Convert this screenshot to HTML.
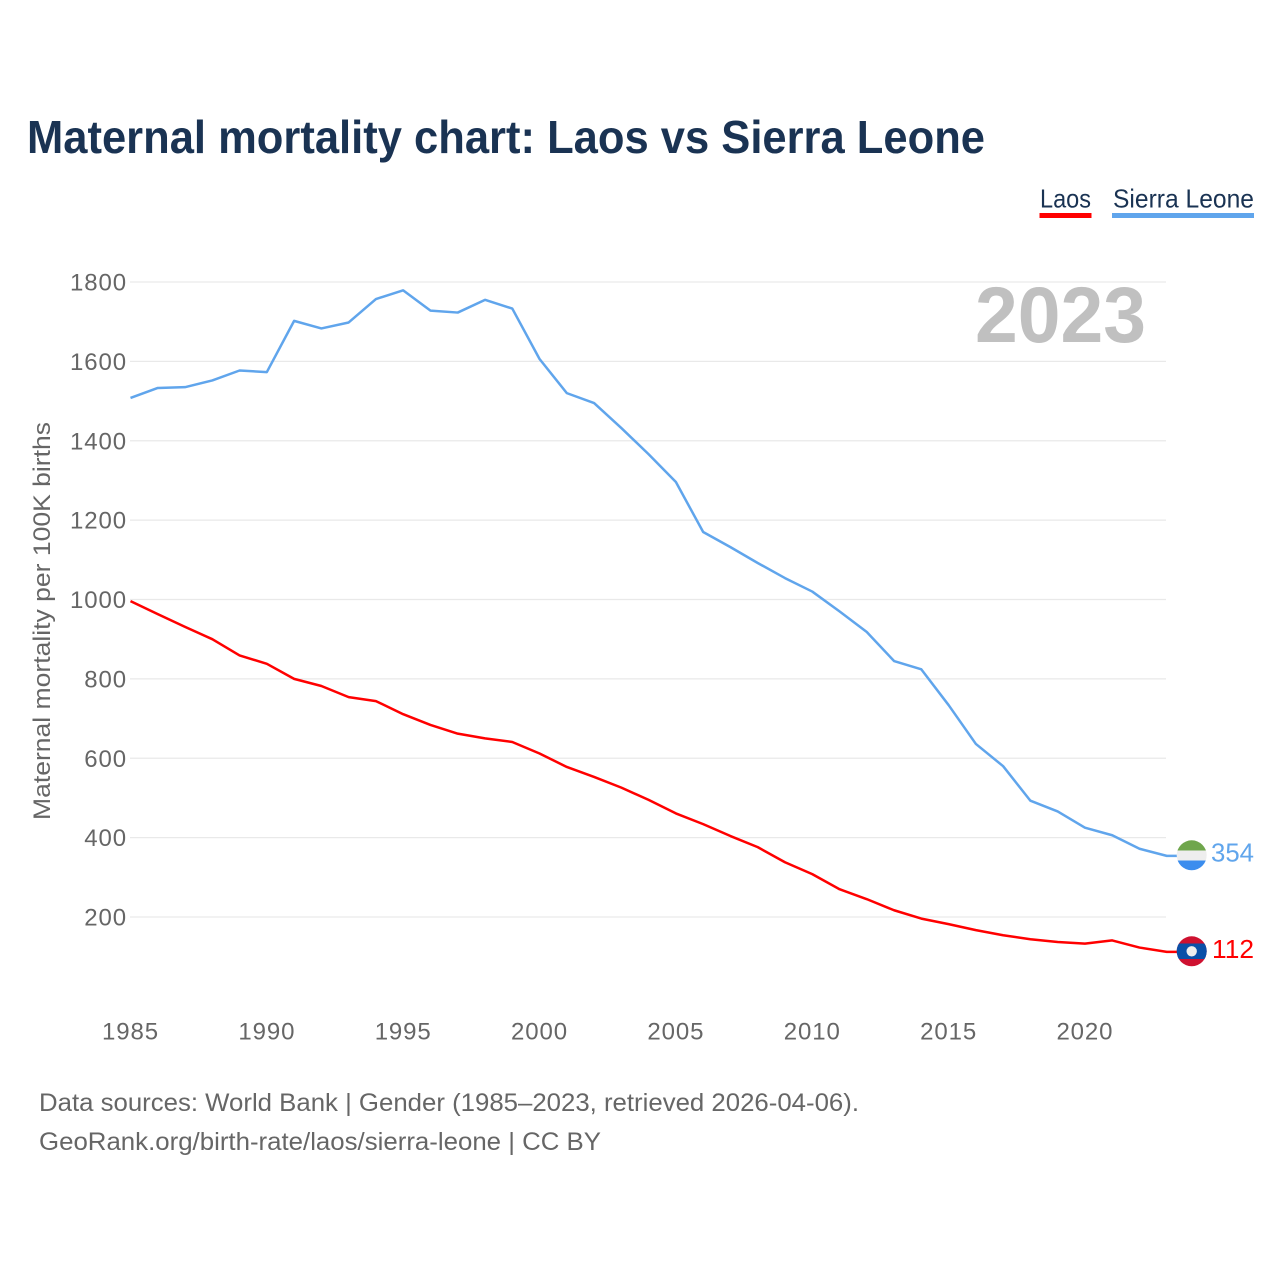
<!DOCTYPE html>
<html lang="en">
<head>
<meta charset="utf-8">
<title>Maternal mortality chart: Laos vs Sierra Leone</title>
<style>
html,body{margin:0;padding:0;background:#fff;}
svg{display:block;font-family:"Liberation Sans",sans-serif;}
.tick{font-size:24px;fill:#666;letter-spacing:.9px;}
.foot{font-size:25px;fill:#666;}
.leg{font-size:26px;fill:#1a3353;}
</style>
</head>
<body>
<svg id="chart" width="1280" height="1280" viewBox="0 0 1280 1280">
  <defs>
    <clipPath id="flag-clip-sl"><circle cx="1191.7" cy="855.3" r="15"/></clipPath>
    <clipPath id="flag-clip-la"><circle cx="1191.7" cy="951.3" r="15"/></clipPath>
  </defs>
  <rect x="0" y="0" width="1280" height="1280" fill="#fff"/>
  <text x="27" y="153" font-size="46" font-weight="700" fill="#1a3353" textLength="958" lengthAdjust="spacingAndGlyphs">Maternal mortality chart: Laos vs Sierra Leone</text>

  <g>
    <g>
      <text class="leg" x="1040" y="207.5" textLength="51" lengthAdjust="spacingAndGlyphs">Laos</text>
      <rect x="1039.5" y="213" width="52" height="5" fill="#ff0000"/>
    </g>
    <g>
      <text class="leg" x="1113" y="207.5" textLength="141" lengthAdjust="spacingAndGlyphs">Sierra Leone</text>
      <rect x="1112" y="213" width="142" height="5" fill="#60a5ec"/>
    </g>
  </g>

  <g id="grid"></g>
  <g id="yticks"></g>
  <g id="xticks"></g>

  <text transform="translate(50,621) rotate(-90)" text-anchor="middle" font-size="24" fill="#666" textLength="398" lengthAdjust="spacingAndGlyphs">Maternal mortality per 100K births</text>

  <text x="1146" y="342" text-anchor="end" font-size="79" font-weight="700" fill="#c0c0c0" textLength="171" lengthAdjust="spacingAndGlyphs">2023</text>

  <g id="series"></g>

  <g clip-path="url(#flag-clip-sl)">
    <rect x="1176" y="840" width="32" height="10.5" fill="#6fa64c"/>
    <rect x="1176" y="850.5" width="32" height="10" fill="#eeeeee"/>
    <rect x="1176" y="860.5" width="32" height="11" fill="#3b8dee"/>
  </g>
  <g clip-path="url(#flag-clip-la)">
    <rect x="1176" y="936" width="32" height="31" fill="#ce1130"/>
    <rect x="1176" y="943.5" width="32" height="15.5" fill="#0a50a8"/>
    <circle cx="1191.7" cy="951.3" r="5.2" fill="#eeeeee"/>
  </g>

  <text x="1211" y="861.5" font-size="26" fill="#60a5ec" textLength="43" lengthAdjust="spacingAndGlyphs">354</text>
  <text x="1212" y="958" font-size="26" fill="#ff0000" textLength="42" lengthAdjust="spacingAndGlyphs">112</text>

  <text class="foot" x="39" y="1111" textLength="820" lengthAdjust="spacingAndGlyphs">Data sources: World Bank | Gender (1985–2023, retrieved 2026-04-06).</text>
  <text class="foot" x="39" y="1150" textLength="562" lengthAdjust="spacingAndGlyphs">GeoRank.org/birth-rate/laos/sierra-leone | CC BY</text>
</svg>
<script>
var years = [1985,1986,1987,1988,1989,1990,1991,1992,1993,1994,1995,1996,1997,1998,1999,2000,2001,2002,2003,2004,2005,2006,2007,2008,2009,2010,2011,2012,2013,2014,2015,2016,2017,2018,2019,2020,2021,2022,2023];
var laos = [996,963,931,900,859,838,800,782,754,744,711,684,662,650,641,612,578,553,526,495,461,434,404,376,338,308,270,245,217,196,182,167,154,144,137,133,141,123,112];
var sierraLeone = [1508,1533,1535,1552,1577,1573,1702,1683,1698,1757,1779,1728,1723,1755,1733,1606,1520,1495,1432,1366,1296,1170,1132,1092,1054,1020,970,918,845,824,734,636,580,493,466,425,406,372,354];
var yTickValues = [200,400,600,800,1000,1200,1400,1600,1800];
var xTickValues = [1985,1990,1995,2000,2005,2010,2015,2020];

var NS = 'http://www.w3.org/2000/svg';
function xScale(year){ return 130.5 + (year - 1985) * 27.27; }
function yScale(v){ return 282 + (1800 - v) * 0.396875; }

var grid = document.getElementById('grid');
var yticks = document.getElementById('yticks');
var xticks = document.getElementById('xticks');
var seriesGroup = document.getElementById('series');

yTickValues.forEach(function(v){
  var line = document.createElementNS(NS, 'line');
  
  
  line.setAttribute('x1', 130);
  line.setAttribute('x2', 1166);
  line.setAttribute('y1', yScale(v));
  line.setAttribute('y2', yScale(v));
  line.setAttribute('stroke', '#e9e9e9');
  line.setAttribute('stroke-width', '1.2');
  grid.appendChild(line);

  var t = document.createElementNS(NS, 'text');
  
  
  t.setAttribute('class', 'tick');
  t.setAttribute('x', 127);
  t.setAttribute('y', yScale(v) + 8.5);
  t.setAttribute('text-anchor', 'end');
  t.textContent = v;
  yticks.appendChild(t);
});

xTickValues.forEach(function(year){
  var t = document.createElementNS(NS, 'text');
  
  
  t.setAttribute('class', 'tick');
  t.setAttribute('x', xScale(year));
  t.setAttribute('y', 1039.5);
  t.setAttribute('text-anchor', 'middle');
  t.textContent = year;
  xticks.appendChild(t);
});

function drawSeries(values, color, name){
  var pts = values.map(function(v, i){
    return xScale(years[i]).toFixed(2) + ',' + yScale(v).toFixed(2);
  });
  var lastY = yScale(values[values.length - 1]).toFixed(2);
  pts.push('1177,' + lastY);
  var p = document.createElementNS(NS, 'polyline');
  
  
  p.setAttribute('points', pts.join(' '));
  p.setAttribute('fill', 'none');
  p.setAttribute('stroke', color);
  p.setAttribute('stroke-width', '2.5');
  p.setAttribute('stroke-linejoin', 'round');
  seriesGroup.appendChild(p);
}
drawSeries(sierraLeone, '#60a5ec', 'line-sierra-leone');
drawSeries(laos, '#ff0000', 'line-laos');
</script>
</body>
</html>
